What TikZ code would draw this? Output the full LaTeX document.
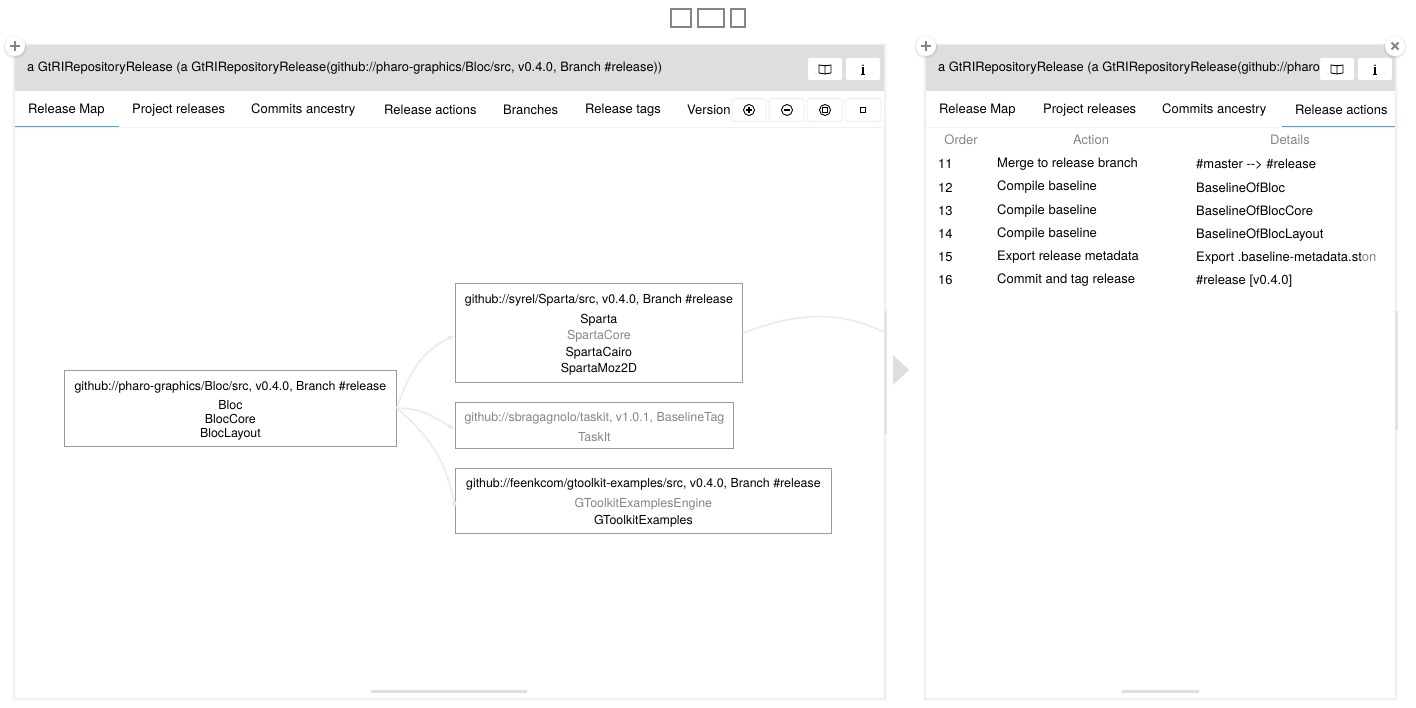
\documentclass[tikz,border=0pt]{standalone}
\usepackage{fontspec}
\setmainfont{TeX Gyre Heros}
\usetikzlibrary{arrows.meta}
\definecolor{headgray}{HTML}{DEDEDE}
\definecolor{edgegray}{HTML}{EBEBEB}
\definecolor{boxgray}{HTML}{9A9A9A}
\definecolor{textgray}{HTML}{858585}
\definecolor{tabblue}{HTML}{42A5F5}
\newcommand{\toprow}{\rule{0pt}{13pt}}
\tikzset{
  lbl/.style={inner sep=0, text height=12, text depth=2, font=\fontsize{13}{14}\selectfont, anchor=west},
  titlelbl/.style={lbl, font=\fontsize{12.85}{14}\selectfont},
  colhead/.style={lbl, anchor=center, text=textgray},
  repobox/.style={draw=boxgray, line width=0.8, fill=white, anchor=north west, inner sep=0, align=center, font=\fontsize{12.4}{14}\selectfont},
  edge/.style={edgegray, line width=1.6, -{Latex[length=7,width=6]}},
  headbtn/.style={fill=white, rounded corners=2},
  toolbtn/.style={fill=white, draw=edgegray, line width=0.7, rounded corners=2.5},
  roundbtn/.style={circle, fill=white, minimum size=20, inner sep=0}
}
\begin{document}
\begin{tikzpicture}[x=1pt,y=-1pt]
  \useasboundingbox (0,0) rectangle (1416,708);
  % layout icons on top
  \draw [textgray, line width=1.5] (671,9) rectangle (691,27);
  \draw [textgray, line width=1.5] (698,9) rectangle (724,27);
  \draw [textgray, line width=1.5] (731,9) rectangle (745,27);
  % panels
  \foreach \xa/\xb in {15/884,926/1395}{
    \foreach \s in {3,2,1}
      \fill [black, opacity=0.025] (\xa-\s,45-\s/2) rectangle (\xb+\s,698+\s);
    \fill [white] (\xa,45) rectangle (\xb,698);
    \fill [headgray] (\xa,45) rectangle (\xb,91);
    \draw [edgegray!70, line width=0.8] (\xa,127) -- (\xb,127);
  }
  \draw [tabblue, line width=1.2] (15,126.5) -- (119,126.5);
  \draw [tabblue, line width=1.2] (1282,126.5) -- (1395,126.5);
  % scroll bars
  \fill [headgray] (371,690) rectangle (527,693);
  \fill [headgray] (1122,690) rectangle (1199,693);
  \fill [headgray!85] (884,311) rectangle (887,434);
  \fill [headgray!85] (1395,311) rectangle (1398,430);
  \fill [headgray] (893,355) -- (909,370) -- (893,385) -- cycle;
  % titles
  \node [titlelbl] (titleleft) at (27,67) {a GtRIRepositoryRelease (a GtRIRepositoryRelease(github://pharo-graphics/Bloc/src, v0.4.0, Branch \#release))};
  \begin{scope}
    \clip (926,45) rectangle (1319,91);
    \node [titlelbl] (titleright) at (938,67) {a GtRIRepositoryRelease (a GtRIRepositoryRelease(github://pharo};
  \end{scope}
  % tabs
  \node [lbl] (tabmap) at (28,109) {Release Map};
  \node [lbl] (tabprojects) at (132,109) {Project releases};
  \node [lbl] (tabcommits) at (251,109) {Commits ancestry};
  \node [lbl] (tabactions) at (384,110) {Release actions};
  \node [lbl] (tabbranches) at (503,110) {Branches};
  \node [lbl] (tabtags) at (585,109) {Release tags};
  \node [lbl] (tabversion) at (687,110) {Version};
  \node [lbl] (tabmaptwo) at (939,109) {Release Map};
  \node [lbl] (tabprojectstwo) at (1043,109) {Project releases};
  \node [lbl] (tabcommitstwo) at (1162,109) {Commits ancestry};
  \node [lbl] (tabactionstwo) at (1295,110) {Release actions};
  % header buttons
  \foreach \xa in {808,1320}{
    \fill [headbtn] (\xa,58) rectangle (\xa+34,80);
    \draw [black, line width=0.9] (\xa+17,65) -- (\xa+17,74) (\xa+11,65) -- (\xa+17,65.8) -- (\xa+23,65) -- (\xa+23,73) -- (\xa+17,74) -- (\xa+11,73) -- cycle;
    \fill [headbtn] (\xa+38,58) rectangle (\xa+72,80);
    \draw [black, line width=1.1] (\xa+53.5,68) -- (\xa+55,68) -- (\xa+55,74.5) (\xa+53,74.5) -- (\xa+57,74.5);
    \fill [black] (\xa+55,65.3) circle (0.9);
  }
  % zoom buttons
  \foreach \xa/\xb in {732/766,769/804,807/842,845/881}
    \draw [toolbtn] (\xa,98.5) rectangle (\xb,121.5);
  \draw [black, line width=0.9] (749,110) circle (5.5);
  \draw [black, line width=1.1] (746,110) -- (752,110) (749,107) -- (749,113);
  \draw [black, line width=0.9] (787,110) circle (5.5);
  \draw [black, line width=1.1] (784,110) -- (790,110);
  \draw [black, line width=0.9] (825,110) circle (5.5);
  \draw [black, line width=0.9] (822.5,107.5) rectangle (827.5,112.5);
  \draw [black, line width=0.9] (860.5,107.5) rectangle (865.5,112.5);
  % map
  \node [repobox, minimum width=332, minimum height=76] (bloc) at (64,370) {\toprow github://pharo-graphics/Bloc/src, v0.4.0, Branch \#release\\[5pt] Bloc\\ BlocCore\\ BlocLayout};
  \node [repobox, minimum width=287, minimum height=99] (sparta) at (455,283) {\toprow github://syrel/Sparta/src, v0.4.0, Branch \#release\\[6pt] Sparta\\[2.5pt] \textcolor{textgray}{SpartaCore}\\[2.5pt] SpartaCairo\\[2.5pt] SpartaMoz2D};
  \node [repobox, minimum width=278, minimum height=46, text=textgray] (taskit) at (455,402) {\toprow github://sbragagnolo/taskit, v1.0.1, BaselineTag\\[6pt] TaskIt};
  \node [repobox, minimum width=376, minimum height=65] (gtoolkit) at (455,468) {\toprow github://feenkcom/gtoolkit-examples/src, v0.4.0, Branch \#release\\[6pt] \textcolor{textgray}{GToolkitExamplesEngine}\\[3pt] GToolkitExamples};
  \coordinate (offmap) at (884,332);
  \draw [edge] (bloc.east) to [out=72, in=205] ([yshift=-2.5]sparta.west);
  \draw [edge] (bloc.east) to [out=2, in=150] ([yshift=-4]taskit.west);
  \draw [edge] (bloc.east) to [out=-40, in=100] ([yshift=-8]gtoolkit.west);
  \draw [edgegray, line width=1.6] (sparta.east) to [out=20, in=155] (offmap);
  % table
  \node [colhead] (headorder) at (961,140) {Order};
  \node [colhead] (headaction) at (1091,140) {Action};
  \node [colhead] (headdetails) at (1290,140) {Details};
  \foreach \n/\ya/\yb/\act/\det in {
    11/164/163/Merge to release branch/\#master -{}-> \#release,
    12/188/186/Compile baseline/BaselineOfBloc,
    13/211/210/Compile baseline/BaselineOfBlocCore,
    14/234/233/Compile baseline/BaselineOfBlocLayout,
    15/257/256/Export release metadata/Export .baseline-metadata.st\textcolor{textgray}{on},
    16/280/279/Commit and tag release/\#release [v0.4.0]}{
    \node [lbl] (order\n) at (938,\ya) {\n};
    \node [lbl] (action\n) at (997,\yb) {\act};
    \node [lbl] (details\n) at (1196,\ya) {\det};
  }
  % round buttons
  \foreach \xa/\nm in {15/plusleft,926/plusright,1395/closeright}{
    \fill [black, opacity=0.08] (\xa,47) circle (11.5);
    \node [roundbtn] (\nm) at (\xa,46) {};
  }
  \draw [textgray, line width=1.6] (10,46) -- (20,46) (15,41) -- (15,51);
  \draw [textgray, line width=1.6] (921,46) -- (931,46) (926,41) -- (926,51);
  \draw [textgray, line width=1.8] (1391.5,42.5) -- (1398.5,49.5) (1391.5,49.5) -- (1398.5,42.5);
\end{tikzpicture}
\end{document}
